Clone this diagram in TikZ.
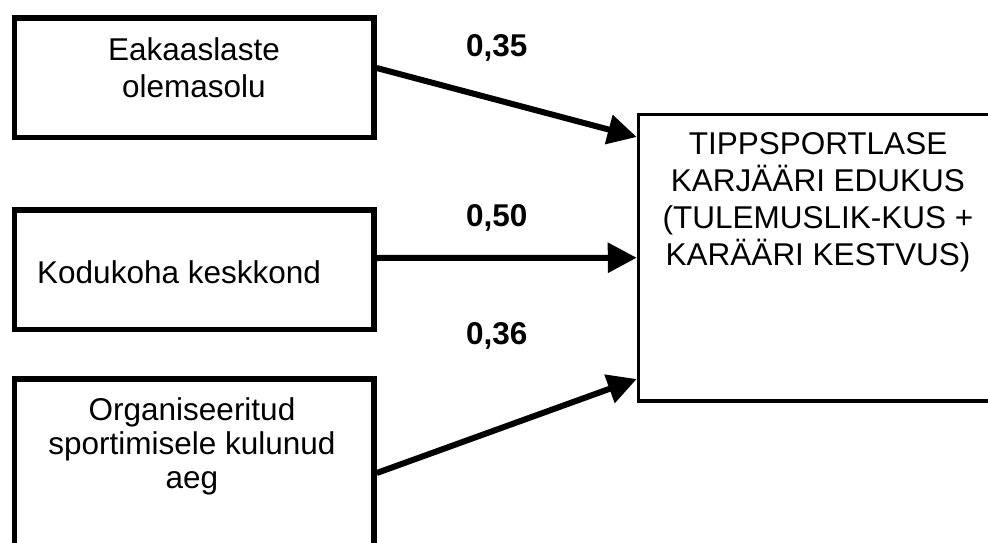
\documentclass[tikz,border=0pt]{standalone}
\usepackage{fontspec}
\setmainfont{Liberation Sans}
\usetikzlibrary{arrows.meta}
\tikzset{
  srcbox/.style={draw, line width=5.5pt, minimum width=359.5pt, inner sep=0pt},
  tgtbox/.style={draw, line width=3.5pt, minimum width=462pt, minimum height=286.5pt, inner sep=0pt},
  txt/.style={inner sep=0pt, align=center, font=\fontsize{31.5}{37}\selectfont},
  coef/.style={inner sep=0pt, anchor=base west, font=\fontsize{31.5}{37}\selectfont\bfseries},
  arr/.style={line width=6pt, -{Triangle[length=29pt,width=29pt]}}
}
\begin{document}
\begin{tikzpicture}[x=1pt,y=-1pt]
\useasboundingbox (0,0) rectangle (988,543);
\clip (0,0) rectangle (988,543);
\fill[white] (0,0) rectangle (988,543);
% source boxes
\node[srcbox, minimum height=119.5pt] (b1) at (194.25,77.75) {};
\node[srcbox, minimum height=119.5pt] (b2) at (194.25,269.75) {};
\node[srcbox, minimum height=221pt] (b3) at (194.25,489.5) {};
% target box
\node[tgtbox] (T) at (869.5,257.75) {};
\draw[white, line width=4pt] ([yshift=-2pt]T.north west) -- ([yshift=45.75pt]T.west);
\draw[line width=1.2pt] ([xshift=1.2pt,yshift=-1pt]T.north west) -- ([xshift=1.2pt,yshift=45.75pt]T.west);
% texts (base anchor = baseline of the last line)
\node[txt, anchor=base] (t1) at (194,97) {Eakaaslaste\\olemasolu};
\node[txt, anchor=base west] (t2) at (37,283) {Kodukoha keskkond};
\node[txt, anchor=base, font=\fontsize{31.5}{34}\selectfont] (t3) at (192,488) {Organiseeritud\\sportimisele kulunud\\aeg};
\node[txt, anchor=base] (tT) at (818,265) {TIPPSPORTLASE\\KARJÄÄRI EDUKUS\\(TULEMUSLIK-KUS +\\KARÄÄRI KESTVUS)};
% coefficients
\node[coef] (c1) at (466,57) {0,35};
\node[coef] (c2) at (466,226) {0,50};
\node[coef] (c3) at (466,344) {0,36};
% arrows
\draw[arr] ([yshift=9.75pt]b1.east) -- ([yshift=120.75pt]T.west);
\draw[arr] ([yshift=11.75pt]b2.east) -- (T.west);
\draw[arr] ([yshift=16.5pt]b3.east) -- ([yshift=-121.25pt]T.west);
\end{tikzpicture}
\end{document}
